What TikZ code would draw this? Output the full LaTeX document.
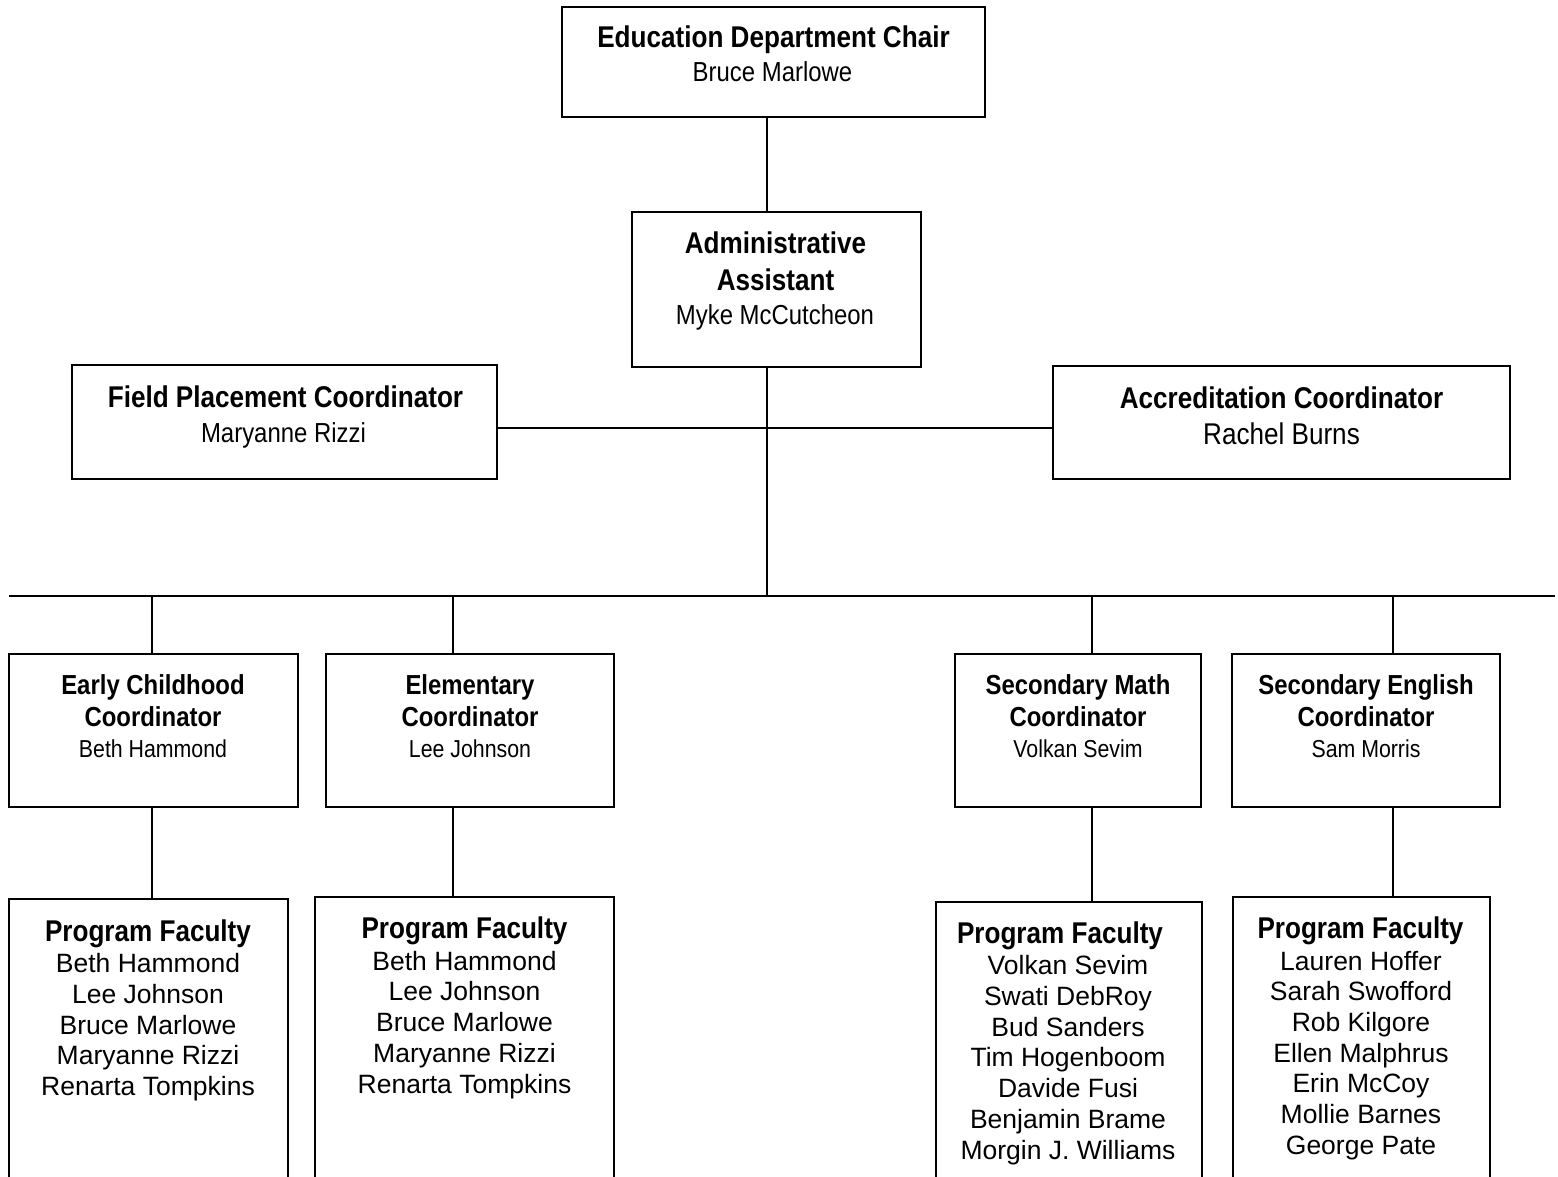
\documentclass[tikz,border=0pt]{standalone}
\usepackage{fontspec}
\setmainfont{Liberation Sans}
\newfontfamily\nrw[FakeStretch=0.87]{Liberation Sans}
\begin{document}
\begin{tikzpicture}[x=0.5pt, y=-0.5pt,
  box/.style 2 args={draw, line width=1.1pt, inner sep=0pt, minimum width=#1*0.5pt, minimum height=#2*0.5pt},
  conn/.style={line width=0.85pt},
  tbig/.style={anchor=base, inner sep=0pt, font=\nrw\bfseries\fontsize{15}{18}\selectfont},
  tsub/.style={anchor=base, inner sep=0pt, font=\nrw\fontsize{13.75}{16}\selectfont},
  tsubL/.style={anchor=base, inner sep=0pt, font=\nrw\fontsize{15}{18}\selectfont},
  cttl/.style={anchor=base, inner sep=0pt, font=\nrw\bfseries\fontsize{13.75}{16}\selectfont},
  cname/.style={anchor=base, inner sep=0pt, font=\nrw\fontsize{12.25}{14}\selectfont},
  fname/.style={anchor=base, inner sep=0pt, font=\fontsize{13.25}{15}\selectfont}
]
\useasboundingbox (0,0) rectangle (1558,1177);
\clip (0,0) rectangle (1558,1177);
\fill[white] (0,0) rectangle (1558,1177);

% boxes
\node[box={423}{110}] (chair) at (773.5,62) {};
\node[box={289}{155}] (admin) at (776.5,289.5) {};
\node[box={425}{114}] (field) at (284.5,422) {};
\node[box={457}{113}] (accred) at (1281.5,422.5) {};
\node[box={289}{153}] (cEC) at (153.5,730.5) {};
\node[box={288}{153}] (cEl) at (470,730.5) {};
\node[box={246}{153}] (cMa) at (1078,730.5) {};
\node[box={268}{153}] (cEn) at (1366,730.5) {};
\node[box={279}{301}] (fEC) at (148.5,1049.5) {};
\node[box={299}{303}] (fEl) at (464.5,1048.5) {};
\node[box={266}{298}] (fMa) at (1069,1051) {};
\node[box={257}{303}] (fEn) at (1361.5,1048.5) {};

% coordinates of connector lines
\coordinate (spine) at (767,596);
\coordinate (hl) at (767,428);
\coordinate (busL) at (9,596);
\coordinate (busR) at (1555,596);
\coordinate (d1) at (152,596);
\coordinate (d2) at (453,596);
\coordinate (d3) at (1092,596);
\coordinate (d4) at (1393,596);

% connectors
\draw[conn] (chair.south -| spine) -- (admin.north -| spine);
\draw[conn] (admin.south -| spine) -- (spine);
\draw[conn] (field.east |- hl) -- (accred.west |- hl);
\draw[conn] (busL) -- (busR);
\draw[conn] (d1) -- (d1 |- cEC.north);
\draw[conn] (d2) -- (d2 |- cEl.north);
\draw[conn] (d3) -- (d3 |- cMa.north);
\draw[conn] (d4) -- (d4 |- cEn.north);
\draw[conn] (d1 |- cEC.south) -- (d1 |- fEC.north);
\draw[conn] (d2 |- cEl.south) -- (d2 |- fEl.north);
\draw[conn] (d3 |- cMa.south) -- (d3 |- fMa.north);
\draw[conn] (d4 |- cEn.south) -- (d4 |- fEn.north);

% texts top
\node[tbig] (chairT) at (773.5,47.5) {Education Department Chair};
\node[tsub] (chairN) at (772.5,82) {Bruce Marlowe};
\node[tbig] (adminT1) at (775.5,253.5) {Administrative};
\node[tbig] (adminT2) at (775.5,290) {Assistant};
\node[tsub] (adminN) at (775,324) {Myke McCutcheon};
\node[tbig] (fieldT) at (285.5,407) {Field Placement Coordinator};
\node[tsub] (fieldN) at (283.5,442) {Maryanne Rizzi};
\node[tbig] (accredT) at (1281.5,408) {Accreditation Coordinator};
\node[tsubL] (accredN) at (1281.5,444) {Rachel Burns};

% coordinator texts
\node[cttl] (cECa) at (153,694) {Early Childhood};
\node[cttl] (cECb) at (153,726.5) {Coordinator};
\node[cname] (cECc) at (153,757) {Beth Hammond};
\node[cttl] (cEla) at (470,694) {Elementary};
\node[cttl] (cElb) at (470,726.5) {Coordinator};
\node[cname] (cElc) at (470,757) {Lee Johnson};
\node[cttl] (cMaa) at (1078,694) {Secondary Math};
\node[cttl] (cMab) at (1078,726.5) {Coordinator};
\node[cname] (cMac) at (1078,757) {Volkan Sevim};
\node[cttl] (cEna) at (1366,694) {Secondary English};
\node[cttl] (cEnb) at (1366,726.5) {Coordinator};
\node[cname] (cEnc) at (1366,757) {Sam Morris};

% faculty
\node[tbig] (fECt) at (148,941.5) {Program Faculty};
\foreach \n [count=\i] in {Beth Hammond, Lee Johnson, Bruce Marlowe, Maryanne Rizzi, Renarta Tompkins}
  \node[fname] (fEC-\i) at (148,{972.5+(\i-1)*30.75}) {\n};
\node[tbig] (fElt) at (464.5,938.5) {Program Faculty};
\foreach \n [count=\i] in {Beth Hammond, Lee Johnson, Bruce Marlowe, Maryanne Rizzi, Renarta Tompkins}
  \node[fname] (fEl-\i) at (464.5,{970+(\i-1)*30.75}) {\n};
\node[tbig] (fMat) at (1060,943.5) {Program Faculty};
\foreach \n [count=\i] in {Volkan Sevim, Swati DebRoy, Bud Sanders, Tim Hogenboom, Davide Fusi, Benjamin Brame, Morgin J. Williams}
  \node[fname] (fMa-\i) at (1068,{974.5+(\i-1)*30.8}) {\n};
\node[tbig] (fEnt) at (1360.5,938.5) {Program Faculty};
\foreach \n [count=\i] in {Lauren Hoffer, Sarah Swofford, Rob Kilgore, Ellen Malphrus, Erin McCoy, Mollie Barnes, George Pate}
  \node[fname] (fEn-\i) at (1361,{970+(\i-1)*30.7}) {\n};
\end{tikzpicture}
\end{document}
